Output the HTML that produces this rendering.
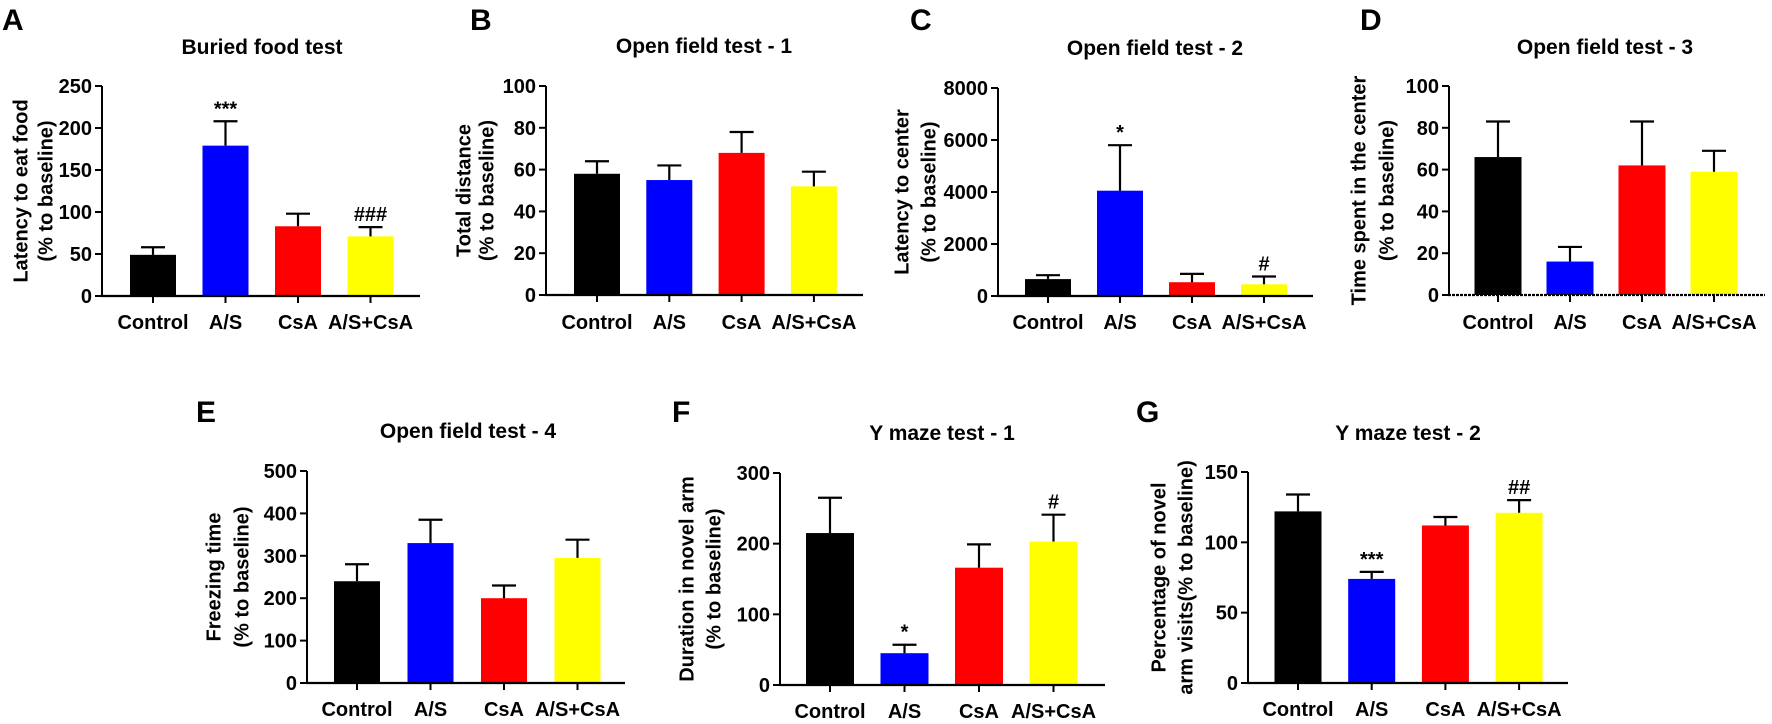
<!DOCTYPE html>
<html><head><meta charset="utf-8">
<style>
html,body{margin:0;padding:0;background:#fff;}
svg{display:block;font-family:"Liberation Sans",Arial,sans-serif;font-weight:bold;}
</style></head>
<body>
<svg id="fig" width="1772" height="724" viewBox="0 0 1772 724" xmlns="http://www.w3.org/2000/svg"></svg>
<script>
const categories = ["Control", "A/S", "CsA", "A/S+CsA"];
const colors = ["#000000", "#0000ff", "#ff0000", "#ffff00"];

const valuesA = [49, 179, 83, 71];
const errorsA = [9, 29, 15, 11];
const marksA = ["", "***", "", "###"];
const ticksA = [0, 50, 100, 150, 200, 250];

const valuesB = [58, 55, 68, 52];
const errorsB = [6, 7, 10, 7];
const marksB = ["", "", "", ""];
const ticksB = [0, 20, 40, 60, 80, 100];

const valuesC = [650, 4050, 530, 450];
const errorsC = [150, 1750, 320, 300];
const marksC = ["", "*", "", "#"];
const ticksC = [0, 2000, 4000, 6000, 8000];

const valuesD = [66, 16, 62, 59];
const errorsD = [17, 7, 21, 10];
const marksD = ["", "", "", ""];
const ticksD = [0, 20, 40, 60, 80, 100];

const valuesE = [240, 330, 200, 295];
const errorsE = [40, 55, 30, 43];
const marksE = ["", "", "", ""];
const ticksE = [0, 100, 200, 300, 400, 500];

const valuesF = [215, 45, 166, 203];
const errorsF = [50, 12, 33, 38];
const marksF = ["", "*", "", "#"];
const ticksF = [0, 100, 200, 300];

const valuesG = [122, 74, 112, 121];
const errorsG = [12, 5, 6, 9];
const marksG = ["", "***", "", "##"];
const ticksG = [0, 50, 100, 150];

const NS = "http://www.w3.org/2000/svg";
const svg = document.getElementById("fig");

function mk(tag, attrs, parent, text) {
  const e = document.createElementNS(NS, tag);
  for (const k in attrs) e.setAttribute(k, attrs[k]);
  if (text !== undefined) e.textContent = text;
  (parent || svg).appendChild(e);
  return e;
}

const panels = [
  {id:"a", letter:"A", lx:2, ly:30, title:"Buried food test", tx:262, ty:54, ax:102, top:86, bot:296, end:420, first:51, sp:72.5, bw:46, vals:valuesA, errs:errorsA, marks:marksA, ticks:ticksA, ylab:["Latency to eat food","(% to baseline)"], o1:80, o2:55, xl:329, dotted:false},
  {id:"b", letter:"B", lx:470, ly:30, title:"Open field test - 1", tx:704, ty:53, ax:546, top:86, bot:295, end:863, first:51, sp:72.3, bw:46, vals:valuesB, errs:errorsB, marks:marksB, ticks:ticksB, ylab:["Total distance","(% to baseline)"], o1:81, o2:58, xl:329, dotted:false},
  {id:"c", letter:"C", lx:910, ly:30, title:"Open field test - 2", tx:1155, ty:55, ax:998, top:88, bot:296, end:1313, first:50, sp:72, bw:46, vals:valuesC, errs:errorsC, marks:marksC, ticks:ticksC, ylab:["Latency to center","(% to baseline)"], o1:95, o2:68, xl:329, dotted:false},
  {id:"d", letter:"D", lx:1360, ly:30, title:"Open field test - 3", tx:1605, ty:54, ax:1449, top:86, bot:295, end:1765, first:49, sp:72, bw:47, vals:valuesD, errs:errorsD, marks:marksD, ticks:ticksD, ylab:["Time spent in the center","(% to baseline)"], o1:89, o2:61, xl:329, dotted:true},
  {id:"e", letter:"E", lx:196, ly:422, title:"Open field test - 4", tx:468, ty:438, ax:307, top:471, bot:683, end:625, first:50, sp:73.5, bw:46, vals:valuesE, errs:errorsE, marks:marksE, ticks:ticksE, ylab:["Freezing time","(% to baseline)"], o1:92, o2:64, xl:716, dotted:false},
  {id:"f", letter:"F", lx:672, ly:422, title:"Y maze test - 1", tx:942, ty:440, ax:780, top:473, bot:685, end:1105, first:50, sp:74.5, bw:48, vals:valuesF, errs:errorsF, marks:marksF, ticks:ticksF, ylab:["Duration in novel arm","(% to baseline)"], o1:92, o2:65, xl:718, dotted:false},
  {id:"g", letter:"G", lx:1136, ly:422, title:"Y maze test - 2", tx:1408, ty:440, ax:1248, top:472, bot:683, end:1568, first:50, sp:73.7, bw:47, vals:valuesG, errs:errorsG, marks:marksG, ticks:ticksG, ylab:["Percentage of novel","arm visits(% to baseline)"], o1:88, o2:61, xl:716, dotted:false}
];

panels.forEach(p => {
  const g = mk("g", {});
  
  
  const maxV = p.ticks[p.ticks.length - 1];
  const y = v => p.bot - (v / maxV) * (p.bot - p.top);
  const x = i => p.ax + p.first + i * p.sp;

  const L = mk("text", {x:p.lx, y:p.ly, "font-size":30, fill:"#000"}, g, p.letter);
  
  

  const T = mk("text", {x:p.tx, y:p.ty, "font-size":21, "text-anchor":"middle", fill:"#000"}, g, p.title);
  
  

  p.vals.forEach((v, i) => {
    const cx = x(i);
    const r = mk("rect", {x:cx - p.bw/2, y:y(v), width:p.bw, height:p.bot - y(v), fill:colors[i]}, g);
    
    
    const top = y(v + p.errs[i]);
    const eb = mk("path", {d:`M${cx} ${y(v)} V${top} M${cx-12} ${top} H${cx+12}`, stroke:"#000", "stroke-width":2.2, fill:"none"}, g);
    
    
    if (p.marks[i]) {
      const m = mk("text", {x:cx, y:top - 6, "font-size":20, "text-anchor":"middle", fill:"#000"}, g, p.marks[i]);
      
      
    }
    const tk = mk("line", {x1:cx, x2:cx, y1:p.bot, y2:p.bot + 7, stroke:"#000", "stroke-width":2}, g);
    
    
    const xl = mk("text", {x:cx, y:p.xl, "font-size":20, "text-anchor":"middle", fill:"#000"}, g, categories[i]);
    
    
  });

  const ya = mk("line", {x1:p.ax, x2:p.ax, y1:p.top, y2:p.bot + 1, stroke:"#000", "stroke-width":2}, g);
  
  
  const xa = mk("line", {x1:p.ax - 1, x2:p.end, y1:p.bot, y2:p.bot, stroke:"#000", "stroke-width":2.2}, g);
  if (p.dotted) xa.setAttribute("stroke-dasharray", "3 1");
  
  

  p.ticks.forEach(t => {
    const ty = y(t);
    const tl = mk("line", {x1:p.ax - 7, x2:p.ax, y1:ty, y2:ty, stroke:"#000", "stroke-width":2}, g);
    
    
    const tt = mk("text", {x:p.ax - 10, y:ty + 7, "font-size":20, "text-anchor":"end", fill:"#000"}, g, String(t));
    
    
  });

  const mid = (p.top + p.bot) / 2;
  [p.o1, p.o2].forEach((o, k) => {
    const cx = p.ax - o;
    const yt = mk("text", {x:cx, y:mid, "font-size":20, "text-anchor":"middle", "dominant-baseline":"middle", transform:`rotate(-90 ${cx} ${mid})`, fill:"#000"}, g, p.ylab[k]);
    
    
  });
});
</script>
</body></html>
